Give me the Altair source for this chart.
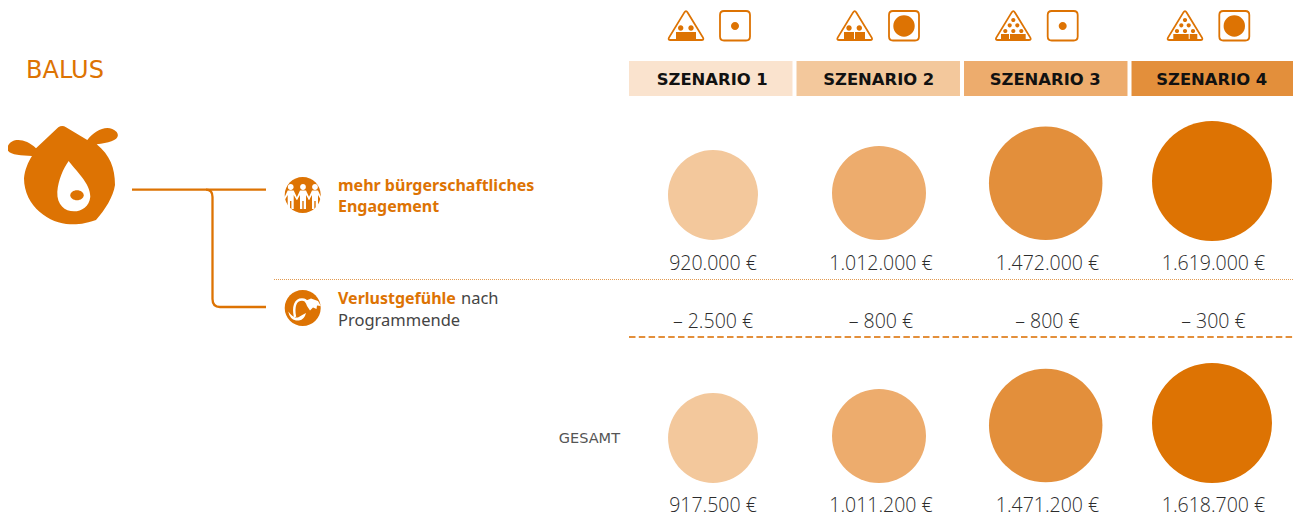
import altair as alt
import pandas as pd

scenarios = ["SZENARIO 1", "SZENARIO 2", "SZENARIO 3", "SZENARIO 4"]
scenario_no = [1, 2, 3, 4]
engagement_values = [920000, 1012000, 1472000, 1619000]
engagement_labels = ["920.000 €", "1.012.000 €", "1.472.000 €", "1.619.000 €"]
loss_labels = ["– 2.500 €", "– 800 €", "– 800 €", "– 300 €"]
total_values = [917500, 1011200, 1471200, 1618700]
total_labels = ["917.500 €", "1.011.200 €", "1.471.200 €", "1.618.700 €"]

ORANGE = "#DD7303"
GREY = "#2c2c2c"
HEAD_COLORS = ["#FAE3CE", "#F3C89C", "#EDAC6D", "#E38F3B"]
BUB_COLORS = ["#F3C89C", "#EDAC6D", "#E38F3B", "#DD7303"]
FONT = "Noto Sans"
NUM_FONT = "Open Sans"

df = pd.DataFrame({
    "scenario": scenarios, "no": scenario_no,
    "eng": engagement_values, "eng_l": engagement_labels,
    "loss_l": loss_labels,
    "tot": total_values, "tot_l": total_labels,
})
one = pd.DataFrame({"k": [1]})

# column centres (chart px) and bubble scales
x_bub = alt.X("no:Q", axis=None, scale=alt.Scale(domain=scenario_no, range=[705, 871, 1037.7, 1204]))
x_txt = alt.X("no:Q", axis=None, scale=alt.Scale(domain=scenario_no, range=[705, 873, 1039.5, 1205.5]))
size_s = lambda dom: alt.Size(dom, legend=None, scale=alt.Scale(domain=[0, 920000, 1012000, 1472000, 1619000],
                                                                range=[0, 8100, 8836, 12880, 14400]))
color_b = alt.Color("scenario:N", legend=None, scale=alt.Scale(domain=scenarios, range=BUB_COLORS))


def circ(cx, cy, r):
    return f"M{cx-r} {cy}a{r} {r} 0 1 0 {2*r} 0a{r} {r} 0 1 0 {-2*r} 0Z"


def ell(cx, cy, rx, ry):
    return f"M{cx-rx} {cy}a{rx} {ry} 0 1 0 {2*rx} 0a{rx} {ry} 0 1 0 {-2*rx} 0Z"


def rect(x0, y0, x1, y1):
    return f"M{x0} {y0}H{x1}V{y1}H{x0}Z"


def rrect(x0, y0, x1, y1, r):
    return (f"M{x0+r} {y0}H{x1-r}Q{x1} {y0} {x1} {y0+r}V{y1-r}Q{x1} {y1} {x1-r} {y1}"
            f"H{x0+r}Q{x0} {y1} {x0} {y1-r}V{y0+r}Q{x0} {y0} {x0+r} {y0}Z")


def fill(path, color=ORANGE):
    return alt.Chart(one).mark_point(shape=path, size=4, filled=True, color=color, opacity=1, strokeWidth=0).encode(
        x=alt.value(-8), y=alt.value(-8))


def line(path, color=ORANGE, sw=2):
    return alt.Chart(one).mark_point(shape=path, size=4, filled=False, color=color, opacity=1, strokeWidth=sw).encode(
        x=alt.value(-8), y=alt.value(-8))


def label(text, x, y, size=16, color=GREY, weight="normal", align="left", font=FONT):
    d = pd.DataFrame({"t": [text]})
    return alt.Chart(d).mark_text(font=font, fontSize=size, color=color, fontWeight=weight, align=align,
                                  baseline="middle").encode(text="t:N", x=alt.value(x - 8), y=alt.value(y - 8))


def tri(cx):
    return (f"M{cx-1.6} 12.4Q{cx} 9.9 {cx+1.6} 12.4L{cx+17} 37.6Q{cx+18.2} 40 {cx+15.5} 40"
            f"H{cx-15.5}Q{cx-18.2} 40 {cx-17} 37.6Z")


layers = []

# header rectangles and labels
x_head = alt.X("scenario:N", axis=None, sort=scenarios,
               scale=alt.Scale(domain=scenarios, range=[621, 1287], paddingInner=0.024, paddingOuter=0))
layers.append(alt.Chart(df).mark_bar(y=53, y2=88).encode(
    x=x_head,
    color=alt.Color("scenario:N", legend=None, scale=alt.Scale(domain=scenarios, range=HEAD_COLORS))))
layers.append(alt.Chart(df).mark_text(font="DejaVu Sans", fontWeight="bold", fontSize=16.4, color="#111111", y=72,
                                      baseline="middle").encode(x=x_head, text="scenario:N"))

# top row bubbles, bottom aligned
layers.append(alt.Chart(df).mark_point(filled=True, opacity=1, strokeWidth=0).encode(
    x=x_bub, color=color_b, size=size_s("eng:Q"),
    y=alt.Y("eng:Q", axis=None, scale=alt.Scale(domain=engagement_values, range=[187, 185, 175.3, 173]))))
# bottom row bubbles
layers.append(alt.Chart(df).mark_point(filled=True, opacity=1, strokeWidth=0).encode(
    x=x_bub, color=color_b, size=size_s("tot:Q"),
    y=alt.Y("tot:Q", axis=None, scale=alt.Scale(domain=total_values, range=[430, 428, 417.5, 415]))))

for field, yy in (("eng_l", 263.5), ("loss_l", 321.5), ("tot_l", 505.5)):
    layers.append(alt.Chart(df).mark_text(font=NUM_FONT, fontSize=19.5, fontWeight=300, color=GREY, y=yy - 8,
                                          baseline="middle").encode(x=x_txt, text=f"{field}:N"))

# separators
layers.append(alt.Chart(one).mark_rule(color="#E39A4F", strokeWidth=1, strokeDash=[1, 1]).encode(
    x=alt.value(274 - 8), x2=alt.value(1295 - 8), y=alt.value(279.5 - 8)))
layers.append(alt.Chart(one).mark_rule(color="#E38F3B", strokeWidth=2, strokeDash=[6.5, 3.3]).encode(
    x=alt.value(629 - 8), x2=alt.value(1295 - 8), y=alt.value(337 - 8)))

# connector
layers.append(line("M132 189.7H266", sw=2.3))
layers.append(line("M206 189.7Q212.5 189.7 212.5 197V299Q212.5 307 220 307H266", sw=2.3))

def zp(x, y):
    return f"{x/3:.1f} {y/3+100:.1f}"


bear = ("M" + zp(108, 145) + "L" + zp(175, 82) + "Q" + zp(187, 74) + " " + zp(198, 82) + "L" + zp(262, 120)
        + "C" + zp(285, 90) + " " + zp(325, 70) + " " + zp(350, 96) + "C" + zp(365, 118) + " " + zp(330, 128) + " " + zp(290, 133)
        + "C" + zp(330, 165) + " " + zp(345, 205) + " " + zp(345, 255) + "C" + zp(340, 290) + " " + zp(315, 330) + " " + zp(288, 360)
        + "C" + zp(255, 372) + " " + zp(235, 373) + " " + zp(210, 373) + "C" + zp(150, 372) + " " + zp(72, 320) + " " + zp(72, 235)
        + "C" + zp(74, 210) + " " + zp(85, 185) + " " + zp(96, 168) + "C" + zp(60, 166) + " " + zp(20, 165) + " " + zp(22, 143)
        + "C" + zp(30, 112) + " " + zp(75, 112) + " " + zp(108, 145) + "Z")
drop = ("M" + zp(206, 183) + "C" + zp(225, 210) + " " + zp(272, 250) + " " + zp(271, 290)
        + "C" + zp(268, 320) + " " + zp(245, 334) + " " + zp(222, 334) + "C" + zp(195, 334) + " " + zp(170, 315) + " " + zp(172, 275)
        + "C" + zp(175, 240) + " " + zp(190, 205) + " " + zp(206, 183) + "Z")
layers += [fill(bear), fill(drop, "#ffffff"), fill(ell(77, 195.3, 6.7, 5))]

# people icon
layers.append(fill(circ(302.7, 195, 18)))
for cx in (290.7, 303, 315):
    layers.append(fill(circ(cx, 187, 2.9), "#ffffff"))
    layers.append(fill(
        f"M{cx-3} 190.5H{cx+3}L{cx+7} 199L{cx+5.8} 199.8L{cx+3} 195V209H{cx+.7}V201H{cx-.7}V209H{cx-3}V195"
        f"L{cx-5.8} 199.8L{cx-7} 199Z", "#ffffff"))

# flower icon
layers.append(fill(circ(302.7, 308, 18)))
layers.append(line("M295 317C293 307 295 299.5 302 299.5C305 299.5 306.5 301 307 303", "#ffffff", 2.4))
layers.append(fill("M305 301L311 298.5L318 301L320.8 306L317 305.5L316.5 309L313 307.5L310 310.5L307 306Z", "#ffffff"))
layers.append(fill("M288.3 311.5Q289.5 319 296 320.5H299Q304.5 319.5 306 313Q302 315 298 317.5H295.5Q292 316.5 288.3 311.5Z", "#ffffff"))

# scenario icons
table_sets = [
    [(676, 32, 696, 40.5)],
    [(844, 32, 854, 40.5), (855, 32, 865, 40.5)],
    [(1001, 34, 1009, 41), (1010, 34, 1025.7, 41)],
    [(1173.3, 34, 1188.7, 41), (1189.7, 34, 1197.3, 41)],
]
dot_sets = [
    [(680.7, 28), (691, 28)],
    [(849, 28), (859.3, 28)],
    [(1013.3, 20), (1009.7, 25.3), (1017.3, 25.3), (1005.3, 31), (1013.3, 31), (1021.3, 31)],
    [(1185, 20), (1181.3, 25.3), (1188.7, 25.3), (1177, 31), (1185, 31), (1193, 31)],
]
tri_cx = [686, 854.7, 1013.3, 1185]
box_x = [720, 889, 1047.7, 1219.3]
box_r = [4, 10.7, 4, 10.7]
for i in range(4):
    layers.append(line(tri(tri_cx[i]), sw=1.8))
    for t in table_sets[i]:
        layers.append(fill(rect(*t)))
    for cx, cy in dot_sets[i]:
        layers.append(fill(circ(cx, cy, 2.7 if i < 2 else 2.1)))
    layers.append(line(rrect(box_x[i], 11, box_x[i] + 30, 40.5, 4), sw=1.8))
    layers.append(fill(circ(box_x[i] + 15, 26, box_r[i])))

# texts
layers.append(label("BALUS", 26, 71, size=24, color=ORANGE, font="DejaVu Sans"))
layers.append(label("mehr bürgerschaftliches", 338, 186, size=16, color=ORANGE, weight="bold"))
layers.append(label("Engagement", 338, 207, size=16, color=ORANGE, weight="bold"))
layers.append(label("Verlustgefühle", 338, 299, size=16, color=ORANGE, weight="bold"))
layers.append(label("nach", 461, 299, size=16.5, color="#444444"))
layers.append(label("Programmende", 338, 321, size=16.5, color="#444444"))
layers.append(label("GESAMT", 620, 439, size=14.5, align="right", color="#555555", font="DejaVu Sans"))

chart = alt.layer(*layers).resolve_scale(
    x="independent", y="independent", color="independent", size="independent"
).properties(width=1285, height=507, padding=0, autosize=alt.AutoSizeParams(type="none")).configure_view(stroke=None)

chart.save("out.html", embed_options={"renderer": "svg", "actions": False})
